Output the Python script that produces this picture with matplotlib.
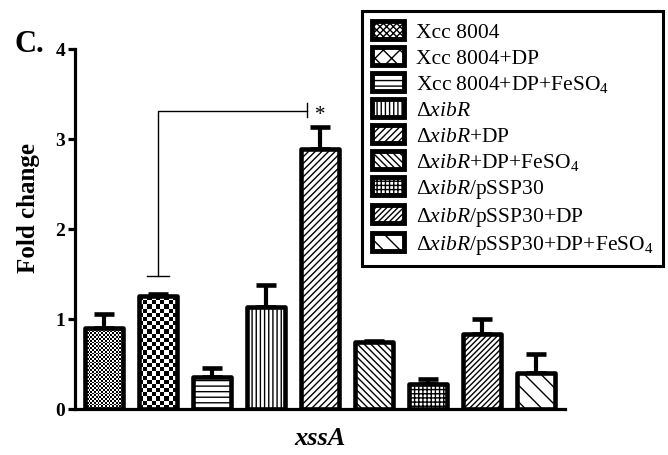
import numpy as np
import matplotlib
matplotlib.use('Agg')
import matplotlib.pyplot as plt
from matplotlib.patches import Patch

plt.rcParams['font.family'] = ['Liberation Serif', 'DejaVu Serif']
plt.rcParams['mathtext.fontset'] = 'custom'
plt.rcParams['mathtext.rm'] = 'Liberation Serif'
plt.rcParams['mathtext.it'] = 'Liberation Serif:italic'
plt.rcParams['hatch.linewidth'] = 1.0

strains = ['Xcc 8004', 'Xcc 8004+DP', r'Xcc 8004+DP+FeSO$_4$',
           r'$\Delta\mathit{xibR}$', r'$\Delta\mathit{xibR}$+DP',
           r'$\Delta\mathit{xibR}$+DP+FeSO$_4$', r'$\Delta\mathit{xibR}$/pSSP30',
           r'$\Delta\mathit{xibR}$/pSSP30+DP',
           r'$\Delta\mathit{xibR}$/pSSP30+DP+FeSO$_4$']
fold = [0.90, 1.25, 0.35, 1.13, 2.89, 0.74, 0.28, 0.83, 0.40]
err = [0.15, 0.03, 0.10, 0.25, 0.24, 0.02, 0.05, 0.17, 0.21]
hatches = [None, None, '---', '||||', '/////', '\\\\\\\\\\', '++++', '//////', '\\\\']
legend_hatches = ['xxxxx', 'xx', '---', '||||', '/////', '\\\\\\\\\\', '++++', '//////', '\\\\']
checker_cells = {0: 1.8, 1: 4.2}   # pixel size of checkerboard squares


def checker(ax, bar, cell):
    x0, y0 = bar.get_x(), bar.get_y()
    w, h = bar.get_width(), bar.get_height()
    p0 = ax.transData.transform((x0, y0))
    p1 = ax.transData.transform((x0 + w, y0 + h))
    nx = max(1, int(round((p1[0] - p0[0]) / cell)))
    ny = max(1, int(round((p1[1] - p0[1]) / cell)))
    grid = np.add.outer(np.arange(ny), np.arange(nx)) % 2
    im = ax.imshow(grid, cmap='gray', extent=(x0, x0 + w, y0, y0 + h),
                   origin='lower', interpolation='nearest', aspect='auto',
                   zorder=1.5)
    im.set_clip_path(bar)


fig = plt.figure(figsize=(6.68, 4.56), dpi=100)
ax = fig.add_axes([0.1123, 0.1009, 0.7335, 0.7895])

x = np.arange(len(fold))
bars = ax.bar(x, fold, width=0.70, color='white', edgecolor='black',
              linewidth=3.3, zorder=2)
for i, b in enumerate(bars):
    b.set_joinstyle('round')
    if hatches[i]:
        b.set_hatch(hatches[i])
    if i in checker_cells:
        b.set_facecolor('none')

ax.errorbar(x, fold, yerr=[np.zeros(len(err)), err], fmt='none', ecolor='black',
            elinewidth=3, capsize=7, capthick=3.3, zorder=1)

ax.set_xlim(-0.537, 8.537)
ax.set_ylim(0, 4)
for i, cell in checker_cells.items():
    checker(ax, bars[i], cell)
ax.set_xlim(-0.537, 8.537)
ax.set_ylim(0, 4)

# significance bracket between Xcc 8004+DP and xibR+DP
ax.plot([1, 1, 3.76], [1.48, 3.31, 3.31], color='black', lw=1.0)
ax.plot([0.8, 1.2], [1.48, 1.48], color='black', lw=1.0)
ax.plot([3.76, 3.76], [3.24, 3.40], color='black', lw=1.0)
ax.text(4.0, 3.27, '*', ha='center', va='center', fontsize=15)

for side in ['top', 'right']:
    ax.spines[side].set_visible(False)
ax.spines['left'].set_linewidth(2.3)
ax.spines['bottom'].set_linewidth(2.3)
ax.set_xticks([])
ax.set_yticks([0, 1, 2, 3, 4])
ax.tick_params(axis='y', length=5, width=2.3, pad=2, labelsize=14)
for t in ax.get_yticklabels():
    t.set_fontweight('bold')
ax.set_ylabel('Fold change', fontsize=18, fontweight='bold')
ax.yaxis.set_label_coords(-0.072, 0.56)
ax.set_xlabel('xssA', fontsize=19, fontweight='bold', style='italic', labelpad=12)

fig.text(0.022, 0.885, 'C.', fontsize=22, fontweight='bold')

handles = [Patch(facecolor='white', edgecolor='black', hatch=h, linewidth=3.5,
                 joinstyle='round') for h in legend_hatches]
leg = fig.legend(handles, strains, loc='upper right',
                 bbox_to_anchor=(663 / 668, 1 - 12 / 456), fontsize=15.5,
                 frameon=True, fancybox=False, edgecolor='black', framealpha=1,
                 handlelength=1.5, handleheight=0.95, labelspacing=0.2,
                 handletextpad=0.55, borderpad=0.45, borderaxespad=0)
leg.get_frame().set_linewidth(2.2)

fig.savefig('out.png', dpi=100)
